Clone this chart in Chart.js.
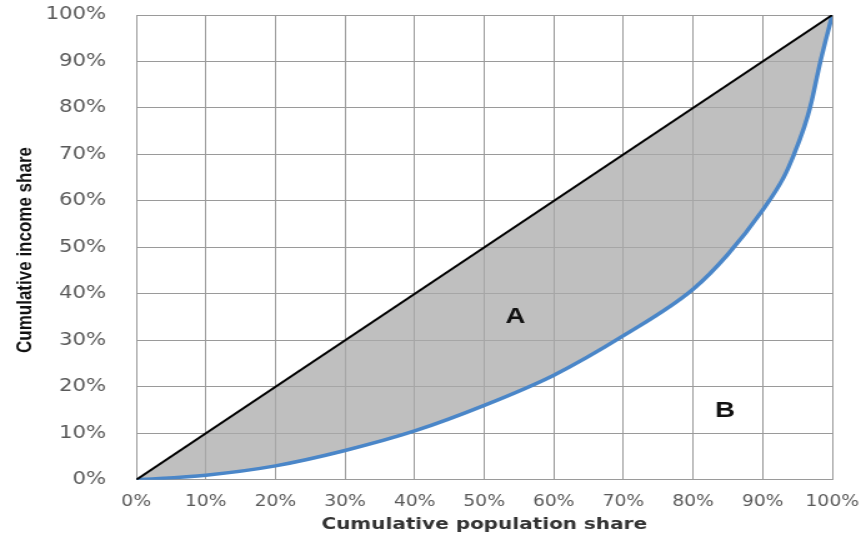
<!DOCTYPE html>
<html>
<head>
<meta charset="utf-8">
<script src="https://cdn.jsdelivr.net/npm/chart.js@4.4.1/dist/chart.umd.min.js"></script>
<style>
  html,body{margin:0;padding:0;background:#fff;overflow:hidden;}
  /* the reference picture is stretched sideways, so draw narrower and stretch */
  #wrap{width:689px;height:542px;transform:scaleX(1.2496);transform-origin:0 0;}
</style>
</head>
<body>
<div id="wrap"><canvas id="lorenz" width="689" height="542"></canvas></div>
<script>
/* === DATA === */
const populationShare=[0,10,20,30,40,50,60,70,80,85,90,93,94.5,96,96.8,98.3,100];
const incomeShare=[0,1,3,6.3,10.5,16,22.5,31,41,48.5,58,65,70,76,80,90,100];
const equalityX=[0,100];
const equalityY=[0,100];
const tickValues=[0,10,20,30,40,50,60,70,80,90,100];
const areaLabels=[{text:"A",x:54.5,y:35},{text:"B",x:84.6,y:14.8}];
const yTitle="Cumulative income share";
const xTitle="Cumulative population share";

/* === LABELS A / B + Y TITLE === */
const extraText={
  id:"extraText",
  afterDatasetsDraw(chart){
    const ctx=chart.ctx, xs=chart.scales.x, ys=chart.scales.y;
    ctx.save();
    ctx.font="bold 22px 'Liberation Sans', Arial, sans-serif";
    ctx.fillStyle="#111";
    ctx.textAlign="center"; ctx.textBaseline="middle";
    areaLabels.forEach(l=>{ ctx.fillText(l.text, xs.getPixelForValue(l.x), ys.getPixelForValue(l.y)); });
    ctx.restore();
  },
  afterDraw(chart){
    const ctx=chart.ctx;
    ctx.save();
    ctx.translate(20,250);
    ctx.rotate(-Math.PI/2);
    ctx.font="bold 17px 'Liberation Sans Narrow', 'Arial Narrow', sans-serif";
    ctx.fillStyle="#111";
    ctx.textAlign="center"; ctx.textBaseline="middle";
    ctx.fillText(yTitle,0,0);
    ctx.restore();
  }
};

const pct=v=>v+"%";

new Chart(document.getElementById("lorenz").getContext("2d"),{
  type:"line",
  data:{
    datasets:[
      {
        label:"Equality",
        data:equalityX.map((x,i)=>({x,y:equalityY[i]})),
        borderColor:"#000",borderWidth:2,pointRadius:0,fill:false,tension:0
      },
      {
        label:"Lorenz",
        data:populationShare.map((x,i)=>({x,y:incomeShare[i]})),
        borderColor:"#4a86c8",borderWidth:3.5,pointRadius:0,
        fill:{target:0},backgroundColor:"rgba(170,170,170,0.75)",
        cubicInterpolationMode:"monotone"
      }
    ]
  },
  options:{
    responsive:false,animation:false,
    layout:{padding:{top:15,right:23,left:0,bottom:8}},
    plugins:{legend:{display:false},tooltip:{enabled:false}},
    scales:{
      x:{
        type:"linear",min:0,max:100,
        afterBuildTicks:ax=>{ ax.ticks=tickValues.map(v=>({value:v})); },
        ticks:{callback:pct,color:"#595959",font:{family:"'DejaVu Sans', Verdana, sans-serif",size:15},maxRotation:0,padding:0},
        grid:{color:"#9a9a9a",lineWidth:1,drawTicks:true,tickLength:13,tickColor:"rgba(0,0,0,0)"},
        border:{color:"#9a9a9a"},
        title:{display:true,text:xTitle,color:"#333",
          font:{family:"'DejaVu Sans', Verdana, sans-serif",size:16,weight:"bold"},padding:{top:4,bottom:0}}
      },
      y:{
        type:"linear",min:0,max:100,
        afterBuildTicks:ax=>{ ax.ticks=tickValues.map(v=>({value:v})); },
        afterFit:s=>{ s.width=109; },
        ticks:{callback:pct,color:"#595959",font:{family:"'DejaVu Sans', Verdana, sans-serif",size:17},padding:2},
        grid:{color:"#9a9a9a",lineWidth:1,drawTicks:true,tickLength:22,tickColor:"rgba(0,0,0,0)"},
        border:{color:"#9a9a9a"}
      }
    }
  },
  plugins:[extraText]
});
</script>
</body>
</html>
